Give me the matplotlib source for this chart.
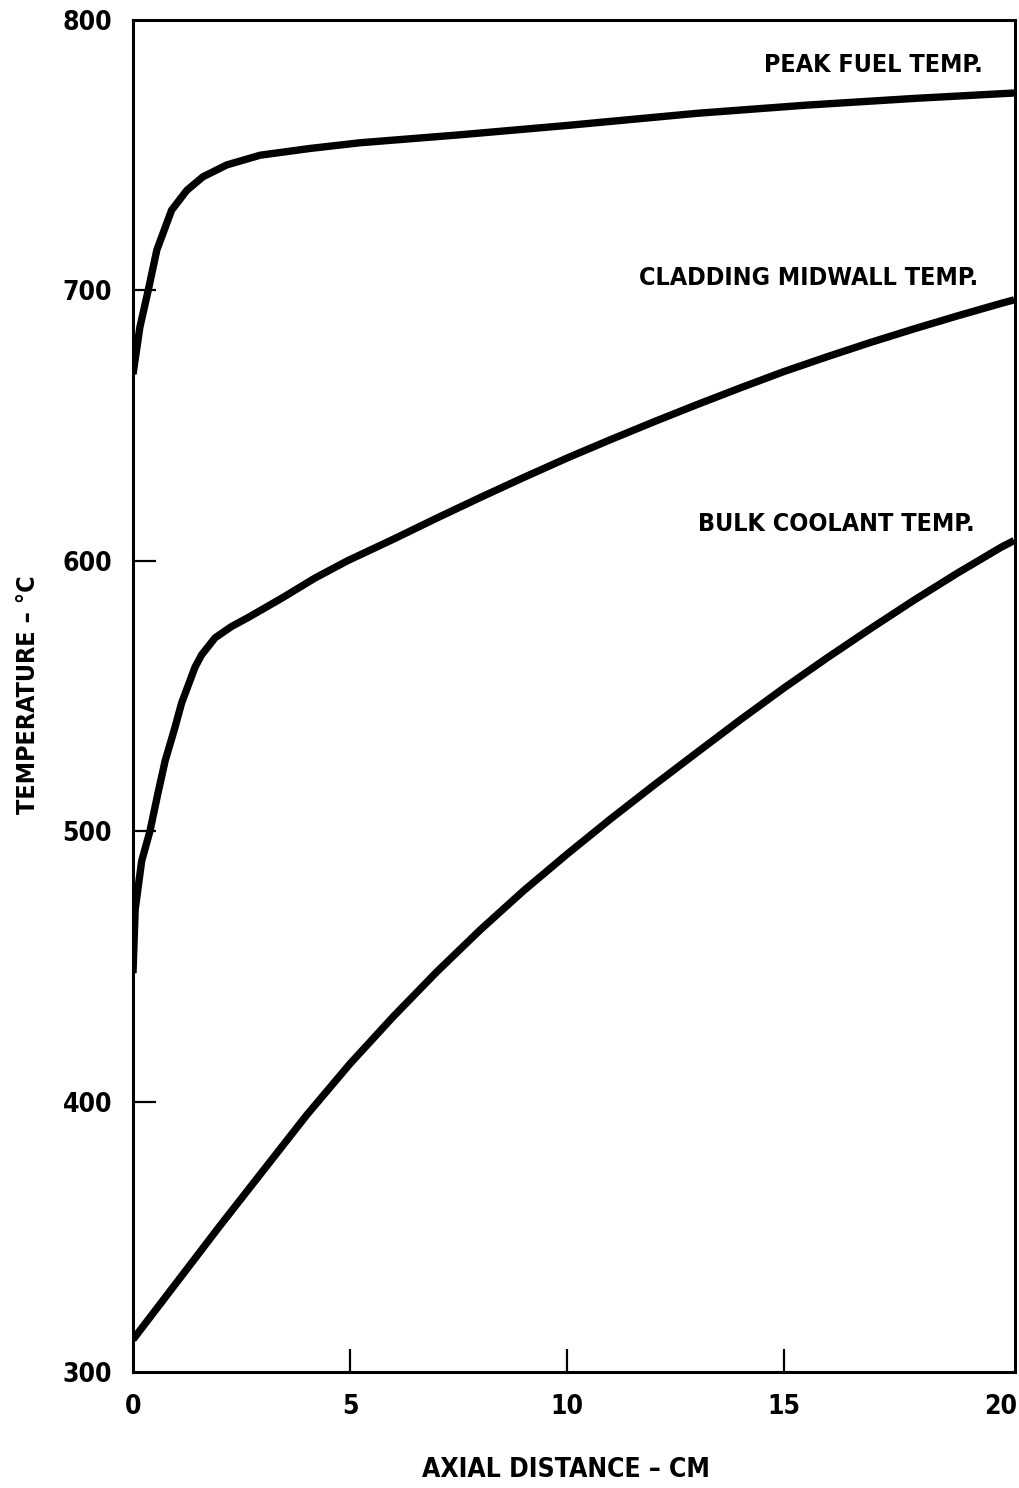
import matplotlib
matplotlib.use("Agg")
import matplotlib.pyplot as plt

# Axial temperature profiles (cm, deg C)
fuel_x = [0.0, 0.16, 0.35, 0.55, 0.89, 1.24, 1.61, 2.16, 2.93, 4.08, 5.23, 7.5, 10.0, 13.0, 15.5, 18.0, 20.3]
fuel_t = [669, 686.5, 700, 715, 729.7, 737, 742, 746.4, 750, 752.5, 754.6, 757.5, 761, 765.5, 768.5, 771, 773]

clad_x = [0.0, 0.05, 0.2, 0.39, 0.57, 0.74, 0.96, 1.12, 1.43, 1.58, 1.89, 2.27, 2.65, 3.43, 4.19, 4.94,
          6.0, 7.0, 8.0, 9.0, 10.0, 11.0, 12.0, 13.0, 14.0, 15.0, 16.0, 17.0, 18.0, 19.0, 20.0, 20.3]
clad_t = [447.5, 471, 489, 500, 513.7, 526, 538, 547.4, 560.7, 565.2, 571.5, 575.7, 579, 586.2, 593.6, 600,
          608, 615.8, 623.4, 630.8, 638, 644.8, 651.4, 657.8, 664, 670, 675.5, 680.8, 685.8, 690.6, 695.2, 696.5]

cool_x = [0.0, 1.0, 2.0, 3.0, 4.0, 5.0, 6.0, 7.0, 8.0, 9.0, 10.0, 11.0, 12.0, 13.0, 14.0, 15.0,
          16.0, 17.0, 18.0, 19.0, 20.0, 20.3]
cool_t = [312, 333, 354, 374.5, 395, 414, 431.5, 448, 463.5, 478, 491.5, 504.5, 517, 529.2, 541.3, 553,
          564.2, 575, 585.5, 595.5, 605, 607.5]

x_ticks = [0, 5, 10, 15, 20]
y_ticks = [300, 400, 500, 600, 700, 800]

curve_labels = ["PEAK FUEL TEMP.", "CLADDING MIDWALL TEMP.", "BULK COOLANT TEMP."]
label_pos = [(19.58, 783.5), (19.47, 704.5), (19.4, 613.5)]

font = dict(family="DejaVu Sans", weight="bold", stretch="condensed")

fig = plt.figure(figsize=(10.2, 14.88), dpi=100)
ax = fig.add_axes([133 / 1020, 116 / 1488, (1015 - 133) / 1020, (1372 - 20) / 1488])

for xs, ts in [(fuel_x, fuel_t), (clad_x, clad_t), (cool_x, cool_t)]:
    ax.plot(xs, ts, color="black", lw=5.3, solid_capstyle="butt", solid_joinstyle="round")

ax.set_xlim(0, 20.32)
ax.set_ylim(300, 800)

for s in ax.spines.values():
    s.set_linewidth(2.2)

ax.set_xticks(x_ticks)
ax.set_yticks(y_ticks)
ax.set_xticklabels([str(v) for v in x_ticks], fontdict=dict(size=19, **font))
ax.set_yticklabels([str(v) for v in y_ticks], fontdict=dict(size=19, **font))
ax.tick_params(axis="both", direction="in", length=16.5, width=1.6)
ax.tick_params(axis="x", pad=16)
ax.tick_params(axis="y", pad=15)

# hide tick marks that fall on the frame
for t in ax.xaxis.get_major_ticks():
    if t.get_loc() in (0, 20):
        t.tick1line.set_visible(False)
for t in ax.yaxis.get_major_ticks():
    if t.get_loc() in (300, 800):
        t.tick1line.set_visible(False)

for txt, (lx, ly) in zip(curve_labels, label_pos):
    ax.text(lx, ly, txt, ha="right", va="center", size=18, **font)

fig.text(566 / 1020, 1 - 1470 / 1488, "AXIAL DISTANCE \u2013 CM", ha="center", va="center", size=19, **font)
fig.text(28 / 1020, 1 - 695 / 1488, "TEMPERATURE \u2013 \u00b0C", ha="center", va="center", rotation=90, size=18, **font)

fig.savefig("out.png", dpi=100)
